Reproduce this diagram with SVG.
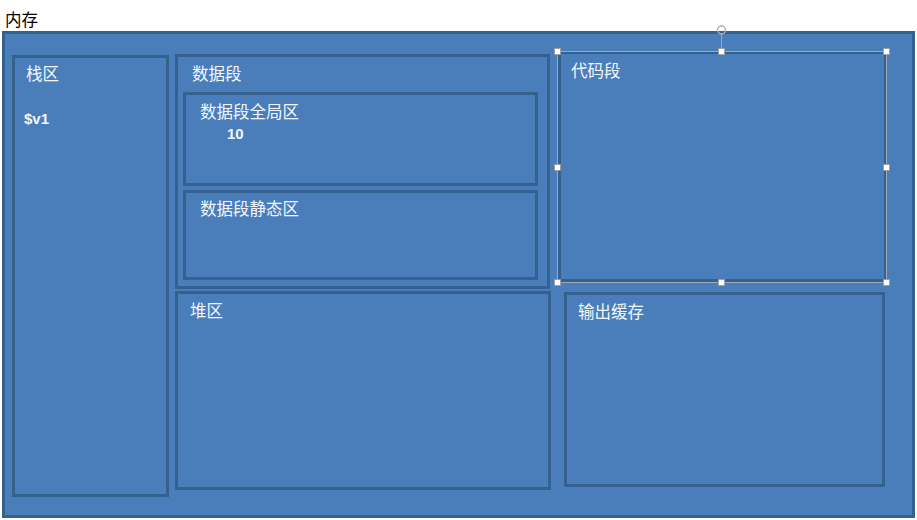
<svg xmlns="http://www.w3.org/2000/svg" width="917" height="520" viewBox="0 0 917 520">
<style>
.box{fill:#4a7ebb;stroke:#35618f;stroke-width:3}
.t{font-family:"Microsoft YaHei","Noto Sans CJK SC",sans-serif;font-size:16.5px;fill:#f2f6fb}
.b{font-family:"Liberation Sans","Noto Sans",sans-serif;font-size:15px;font-weight:bold;fill:#f2f6fb}
.h{fill:#ffffff;stroke:#999999;stroke-width:0.8}
</style>
<rect width="917" height="520" fill="#ffffff"/>
<text x="5" y="26" style="font-family:'Noto Sans CJK SC',sans-serif;font-size:16.5px;fill:#000">内存</text>
<g id="memory"><rect class="box" x="3.5" y="32.5" width="910" height="484"/></g>
<g id="stack"><rect class="box" x="13.5" y="56.5" width="154" height="439"/>
<text class="t" x="26" y="80">栈区</text><text class="b" x="24" y="124">$v1</text></g>
<g id="data"><rect class="box" x="176.5" y="55.5" width="372" height="232"/>
<text class="t" x="192" y="80">数据段</text></g>
<g id="global"><rect class="box" x="184.5" y="93.5" width="352" height="91"/>
<text class="t" x="200" y="118">数据段全局区</text><text class="b" x="227" y="139">10</text></g>
<g id="static"><rect class="box" x="184.5" y="191.5" width="352" height="87"/>
<text class="t" x="200" y="215">数据段静态区</text></g>
<g id="heap"><rect class="box" x="176.5" y="292.5" width="373" height="196"/>
<text class="t" x="190" y="317">堆区</text></g>
<g id="code"><rect class="box" x="559.5" y="52.5" width="326" height="228"/>
<text class="t" x="571" y="77">代码段</text>
<rect x="557.5" y="51.5" width="329" height="231" fill="none" stroke="#a0a8b4" stroke-width="1"/>
<line x1="721.5" y1="34" x2="721.5" y2="51" stroke="#a0a8b4" stroke-width="1"/>
<circle cx="721.5" cy="30" r="4" fill="none" stroke="#b0b0b0" stroke-width="1.5"/>
<rect class="h" x="554.5" y="48.5" width="6" height="6"/><rect class="h" x="718.5" y="48.5" width="6" height="6"/><rect class="h" x="883.5" y="48.5" width="6" height="6"/>
<rect class="h" x="554.5" y="164.5" width="6" height="6"/><rect class="h" x="883.5" y="164.5" width="6" height="6"/>
<rect class="h" x="554.5" y="279.5" width="6" height="6"/><rect class="h" x="718.5" y="279.5" width="6" height="6"/><rect class="h" x="883.5" y="279.5" width="6" height="6"/></g>
<g id="output"><rect class="box" x="565.5" y="293.5" width="318" height="192"/>
<text class="t" x="578" y="318">输出缓存</text></g>
<g id="connectors"/>
</svg>
